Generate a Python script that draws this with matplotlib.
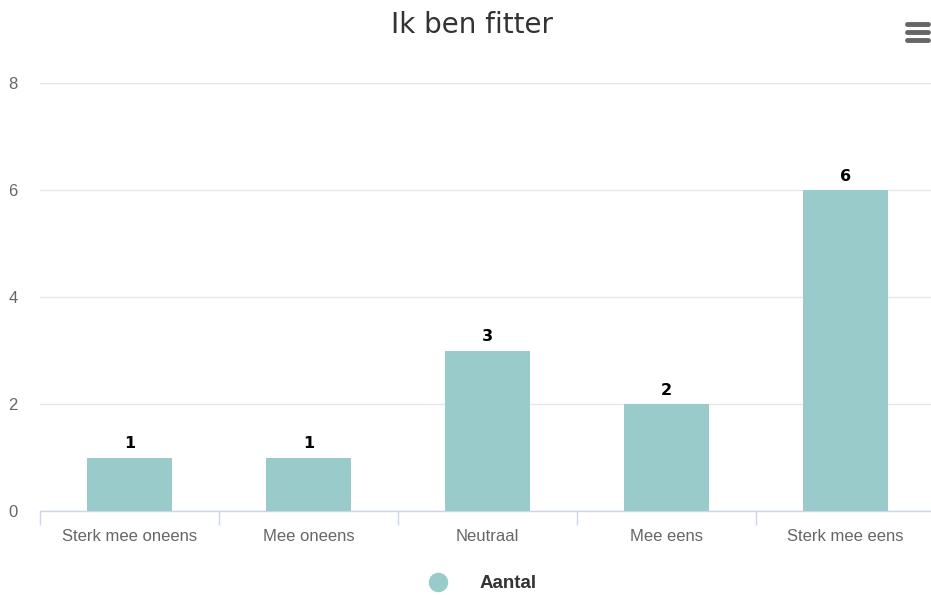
import matplotlib
matplotlib.use("Agg")
import matplotlib.pyplot as plt
from matplotlib.lines import Line2D
import numpy as np

categories = ["Sterk mee oneens", "Mee oneens", "Neutraal", "Mee eens", "Sterk mee eens"]
values = [1, 1, 3, 2, 6]
yticks = [0, 2, 4, 6, 8]
title = "Ik ben fitter"
series_name = "Aantal"
bar_color = "#99CBCB"

fig = plt.figure(figsize=(9.31, 5.95), dpi=100)
ax = fig.add_axes([40/931, 84/595, 895/931, 428/595])

x = np.arange(len(categories))
ax.bar(x, values, width=0.475, color=bar_color, zorder=3)
for xi, v in zip(x, values):
    ax.text(xi, v + 0.12, str(v), ha="center", va="bottom", fontsize=11.5,
            fontweight="bold", color="black", family="DejaVu Sans", zorder=4)

ax.set_xlim(-0.5, len(categories) - 0.5)
ax.set_ylim(0, 8)
ax.set_yticks(yticks)
ax.set_yticklabels([str(t) for t in yticks], fontsize=12, color="#666666", family="Liberation Sans")
ax.tick_params(axis="y", length=0, pad=16)
ax.yaxis.grid(True, color="#e6e6e6", linewidth=1, zorder=0)

ax.set_xticks(x)
ax.set_xticklabels(categories, fontsize=12, color="#666666", family="Liberation Sans")
ax.set_xticks(np.arange(len(categories) + 1) - 0.5, minor=True)
ax.tick_params(axis="x", which="major", length=0, pad=13)
ax.tick_params(axis="x", which="minor", length=10, color="#ccd6eb", width=1)

for s in ["top", "right", "left"]:
    ax.spines[s].set_visible(False)
ax.spines["bottom"].set_color("#ccd6eb")
ax.spines["bottom"].set_linewidth(1)

fig.text(472/931, 1 - 25/595, title, ha="center", va="center", fontsize=20,
         color="#333333", family="DejaVu Sans")

# legend
fig.add_artist(Line2D([438/931], [1 - 582/595], marker="o", markersize=13,
                      color=bar_color, linestyle="none", transform=fig.transFigure))
fig.text(480/931, 1 - 584/595, series_name, ha="left", va="center", fontsize=13.5,
         fontweight="bold", color="#333333", family="Liberation Sans")

# menu icon
for yy in [24, 32, 40]:
    fig.add_artist(Line2D([907/931, 928/931], [1 - yy/595, 1 - yy/595], color="#666666",
                          linewidth=3.5, solid_capstyle="round", transform=fig.transFigure))

fig.savefig("out.png", dpi=100)
